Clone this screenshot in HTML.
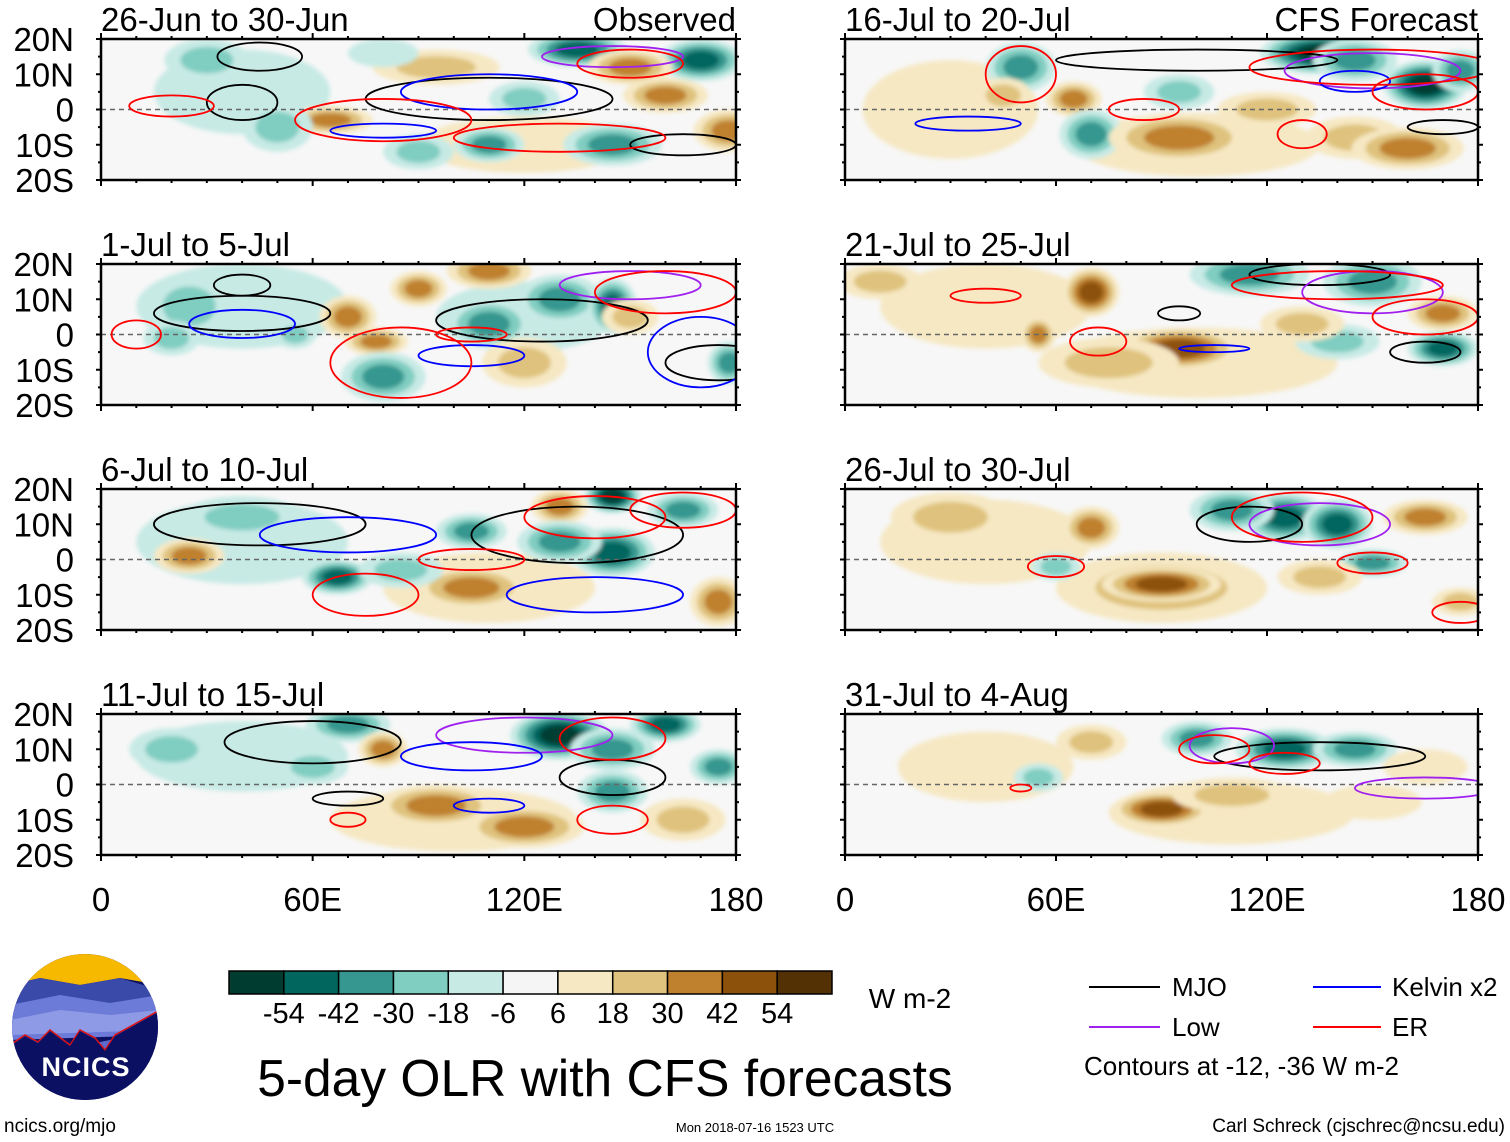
<!DOCTYPE html>
<html><head><meta charset="utf-8">
<style>
body{margin:0;background:#fff;}
svg{display:block;font-family:"Liberation Sans",sans-serif;}
</style></head>
<body>
<svg id="fig" width="1510" height="1142" viewBox="0 0 1510 1142">
<defs><filter id="bl" x="-20%" y="-20%" width="140%" height="140%"><feGaussianBlur stdDeviation="2"/></filter>
<clipPath id="c0"><rect x="101" y="39" width="635" height="141"/></clipPath>
<clipPath id="c1"><rect x="845" y="39" width="633" height="141"/></clipPath>
<clipPath id="c2"><rect x="101" y="264" width="635" height="141"/></clipPath>
<clipPath id="c3"><rect x="845" y="264" width="633" height="141"/></clipPath>
<clipPath id="c4"><rect x="101" y="489" width="635" height="141"/></clipPath>
<clipPath id="c5"><rect x="845" y="489" width="633" height="141"/></clipPath>
<clipPath id="c6"><rect x="101" y="714" width="635" height="141"/></clipPath>
<clipPath id="c7"><rect x="845" y="714" width="633" height="141"/></clipPath>
</defs>
<g id="panels"></g>
<g id="colorbar"></g>
<text x="910" y="1008" font-size="28" text-anchor="middle">W m-2</text>
<text x="605" y="1096" font-size="51.5" text-anchor="middle">5-day OLR with CFS forecasts</text>
<g font-size="26">
<line x1="1089" y1="987" x2="1160" y2="987" stroke="#000" stroke-width="2"/><text x="1172" y="996">MJO</text>
<line x1="1089" y1="1027" x2="1160" y2="1027" stroke="#a020f0" stroke-width="2"/><text x="1172" y="1036">Low</text>
<line x1="1313" y1="987" x2="1381" y2="987" stroke="#0000ff" stroke-width="2"/><text x="1392" y="996">Kelvin x2</text>
<line x1="1313" y1="1027" x2="1381" y2="1027" stroke="#ff0000" stroke-width="2"/><text x="1392" y="1036">ER</text>
<text x="1084" y="1075" font-size="26">Contours at -12, -36 W m-2</text>
</g>
<g>
<clipPath id="lc"><circle cx="85" cy="1027" r="73"/></clipPath>
<g clip-path="url(#lc)">
<rect x="10" y="950" width="150" height="160" fill="#0b1063"/>
<path d="M10 950 L160 950 L160 985 L120 978 L80 985 L40 978 L10 985Z" fill="#f7b800"/>
<path d="M10 985 L40 978 L80 985 L120 978 L160 990 L160 1030 L10 1030Z" fill="#3a4aa8"/>
<path d="M10 1005 L60 995 L110 1003 L160 995 L160 1035 L10 1040Z" fill="#6c7bd8"/>
<path d="M10 1020 L60 1010 L110 1015 L160 1010 L160 1030 L10 1035Z" fill="#8f9ae6"/>
<path d="M10 1045 L25 1035 L38 1042 L50 1030 L70 1045 L80 1030 L95 1038 L105 1050 L115 1035 L160 1010 L160 1030 L10 1060Z" fill="#5a6ad0"/>
<path d="M10 1045 L25 1035 L38 1042 L50 1030 L70 1045 L80 1030 L95 1038 L105 1050 L115 1035 L160 1010" fill="none" stroke="#e01010" stroke-width="1.5"/>
<path d="M10 1046 L25 1036 L38 1043 L50 1031 L70 1046 L80 1031 L95 1039 L105 1051 L115 1036 L160 1011 L160 1110 L10 1110Z" fill="#0b1063"/>
</g>
<text x="86" y="1076" font-size="27" font-weight="bold" fill="#fff" text-anchor="middle" letter-spacing="1">NCICS</text>
</g>
<text x="4" y="1132" font-size="19">ncics.org/mjo</text>
<text x="755" y="1132" font-size="13" text-anchor="middle">Mon 2018-07-16 1523 UTC</text>
<text x="1505" y="1132" font-size="19" text-anchor="end">Carl Schreck (cjschrec@ncsu.edu)</text>
</svg>
<script>
const titles=["26-Jun to 30-Jun","16-Jul to 20-Jul","1-Jul to 5-Jul","21-Jul to 25-Jul","6-Jul to 10-Jul","26-Jul to 30-Jul","11-Jul to 15-Jul","31-Jul to 4-Aug"];
const levels=[-54,-42,-30,-18,-6,6,18,30,42,54];
const colors=["#003c30","#01665e","#35978f","#80cdc1","#c7eae5","#f5f5f5","#f6e8c3","#dfc27d","#bf812d","#8c510a","#543005"];
const yTicks=["20N","10N","0","10S","20S"];
const xTicks=["0","60E","120E","180"];
// blobs: [lon, lat, anomaly, halfWidthDeg, halfHeightDeg]
const blobs0=[[40,5,-10,25,12],[120,-10,10,30,8],[135,17,-50,14,5],[170,14,-45,12,6],[150,12,40,12,5],[160,4,30,12,5],[95,12,25,18,5],[65,-3,30,12,4],[178,-6,30,10,6],[110,-10,-30,10,5],[145,-10,-35,14,6],[90,-12,-20,10,5],[30,14,-20,12,6],[50,-5,-18,10,7],[120,3,-20,10,5],[80,16,-15,10,4]];
const blobs1=[[30,0,8,25,14],[100,-10,15,35,9],[50,12,-35,10,7],[65,3,30,8,5],[45,4,20,8,5],[70,-7,-30,9,7],[95,5,-25,10,5],[135,16,-55,17,6],[165,7,-55,12,7],[145,14,-40,12,6],[95,-8,35,20,7],[145,-8,25,14,6],[160,-11,40,16,6],[120,0,20,14,5],[175,11,-30,8,6]];
const blobs2=[[40,8,-12,30,12],[120,5,-10,25,10],[70,5,40,8,6],[78,-2,30,9,4],[90,13,35,8,5],[110,18,40,12,5],[130,10,-30,12,7],[110,3,-35,12,7],[145,8,-45,7,8],[80,-12,-35,12,7],[150,5,25,8,5],[25,8,-25,12,9],[20,-1,-25,8,5],[120,-8,20,12,7],[178,-8,-40,6,6],[55,0,-20,6,4]];
const blobs3=[[40,8,10,30,12],[100,-8,15,40,10],[70,12,50,8,7],[55,0,40,5,5],[95,-4,45,17,6],[75,-8,20,20,7],[115,17,-40,17,6],[150,15,-35,14,7],[170,6,40,10,5],[170,-4,-50,10,5],[10,15,20,12,5],[140,-2,-25,12,5],[130,3,20,12,5]];
const blobs4=[[40,5,-8,30,12],[110,-8,12,30,10],[145,18,-55,8,5],[130,15,30,8,5],[165,14,-35,10,5],[145,2,-50,12,7],[105,8,-35,10,5],[130,5,-35,12,6],[67,-5,-45,10,5],[25,1,35,10,5],[105,-8,30,16,6],[175,-12,40,8,7],[85,-3,-20,12,5],[40,12,-18,17,6]];
const blobs5=[[40,5,10,30,12],[90,-8,18,30,10],[70,9,40,8,6],[90,-7,50,17,5],[125,12,-45,12,7],[140,10,-50,10,7],[110,14,-35,12,6],[165,12,30,12,5],[150,-1,-30,10,4],[135,-5,25,12,5],[60,-2,-20,7,4],[30,12,18,17,7],[175,-12,25,8,4]];
const blobs6=[[40,8,-10,30,10],[100,-10,12,35,9],[70,17,-40,12,5],[130,14,-55,14,7],[160,17,-50,10,5],[145,10,-35,12,6],[175,5,-40,8,5],[145,-2,-40,10,6],[95,-6,35,17,6],[120,-12,30,17,6],[80,10,30,7,5],[60,5,-20,10,5],[20,10,-20,12,6],[165,-10,20,12,6]];
const blobs7=[[40,5,8,25,10],[110,-8,12,35,9],[100,13,-40,10,5],[125,10,-50,14,6],[145,10,-30,12,5],[90,-7,45,14,5],[70,12,25,10,5],[110,-3,20,17,5],[165,5,15,12,5],[55,2,-20,7,4],[150,-5,15,14,5]];
const blobsAll=[blobs0,blobs1,blobs2,blobs3,blobs4,blobs5,blobs6,blobs7];
// contours: [lon, lat, halfWidthDeg, halfHeightDeg, type]
const cont0=[[45,15,12,4,"MJO"],[40,2,10,5,"MJO"],[110,3,35,6,"MJO"],[165,-10,15,3,"MJO"],[145,15,20,3,"Low"],[110,5,25,5,"Kelvin"],[80,-6,15,2,"Kelvin"],[20,1,12,3,"ER"],[80,-3,25,6,"ER"],[150,13,15,4,"ER"],[130,-8,30,4,"ER"]];
const cont1=[[100,14,40,3,"MJO"],[170,-5,10,2,"MJO"],[150,11,25,5,"Low"],[35,-4,15,2,"Kelvin"],[145,8,10,3,"Kelvin"],[50,10,10,8,"ER"],[150,12,35,5,"ER"],[85,0,10,3,"ER"],[130,-7,7,4,"ER"],[165,5,15,5,"ER"]];
const cont2=[[40,14,8,3,"MJO"],[40,6,25,5,"MJO"],[125,4,30,6,"MJO"],[175,-8,15,5,"MJO"],[150,14,20,4,"Low"],[40,3,15,4,"Kelvin"],[105,-6,15,3,"Kelvin"],[170,-5,15,10,"Kelvin"],[10,0,7,4,"ER"],[85,-8,20,10,"ER"],[160,12,20,6,"ER"],[105,0,10,2,"ER"]];
const cont3=[[135,17,20,3,"MJO"],[95,6,6,2,"MJO"],[165,-5,10,3,"MJO"],[150,12,20,6,"Low"],[105,-4,10,1,"Kelvin"],[40,11,10,2,"ER"],[140,14,30,4,"ER"],[72,-2,8,4,"ER"],[165,5,15,5,"ER"]];
const cont4=[[45,10,30,6,"MJO"],[135,7,30,8,"MJO"],[70,7,25,5,"Kelvin"],[140,-10,25,5,"Kelvin"],[105,0,15,3,"ER"],[75,-10,15,6,"ER"],[140,12,20,6,"ER"],[165,14,15,5,"ER"]];
const cont5=[[115,10,15,5,"MJO"],[135,10,20,6,"Low"],[60,-2,8,3,"ER"],[130,12,20,7,"ER"],[150,-1,10,3,"ER"],[175,-15,8,3,"ER"]];
const cont6=[[60,12,25,6,"MJO"],[70,-4,10,2,"MJO"],[145,2,15,5,"MJO"],[120,14,25,5,"Low"],[105,8,20,4,"Kelvin"],[110,-6,10,2,"Kelvin"],[70,-10,5,2,"ER"],[145,-10,10,4,"ER"],[145,13,15,6,"ER"]];
const cont7=[[135,8,30,4,"MJO"],[110,11,12,5,"Low"],[165,-1,20,3,"Low"],[105,10,10,4,"ER"],[125,6,10,3,"ER"],[50,-1,3,1,"ER"]];
const contAll=[cont0,cont1,cont2,cont3,cont4,cont5,cont6,cont7];
const ctype={MJO:"#000",Low:"#a020f0",Kelvin:"#0000ff",ER:"#ff0000"};

const NS="http://www.w3.org/2000/svg";
function mk(tag,attrs,parent){const e=document.createElementNS(NS,tag);for(const k in attrs)e.setAttribute(k,attrs[k]);parent.appendChild(e);return e;}
function colorFor(v){let i=0;while(i<levels.length&&v>levels[i])i++;return colors[i];}
const root=document.getElementById('panels');
for(let p=0;p<8;p++){
  const col=p%2,row=Math.floor(p/2);
  const x0=col?845:101,w=col?633:635,y0=39+row*225,h=141;
  const xs=lon=>x0+lon/180*w, ys=lat=>y0+(20-lat)/40*h;
  const g=mk('g',{},root);
  
  
  mk('rect',{x:x0,y:y0,width:w,height:h,fill:'#f7f7f7'},g);
  const field=mk('g',{'clip-path':`url(#c${p})`,filter:'url(#bl)'},g);
  blobsAll[p].forEach(b=>{
    const [lon,lat,v,rx,ry]=b;
    const n=Math.max(1,Math.floor((Math.abs(v)-6)/12)+1);
    for(let k=0;k<n;k++){
      const f=1-0.75*k/n;
      const val=Math.sign(v)*(6+1+k*12);
      const e=mk('ellipse',{cx:xs(lon),cy:ys(lat),rx:rx*f*w/180,ry:ry*f*h/40,fill:colorFor(val)},field);
      
      
    }
  });
  const cg=mk('g',{'clip-path':`url(#c${p})`},g);
  mk('line',{x1:x0,x2:x0+w,y1:ys(0),y2:ys(0),stroke:'#666','stroke-dasharray':'5,4','stroke-width':1.5},cg);
  contAll[p].forEach(c=>{
    const e=mk('ellipse',{cx:xs(c[0]),cy:ys(c[1]),rx:c[2]*w/180,ry:c[3]*h/40,fill:'none',stroke:ctype[c[4]],'stroke-width':1.8},cg);
    
    
  });
  mk('rect',{x:x0,y:y0,width:w,height:h,fill:'none',stroke:'#000','stroke-width':2.5},g);
  for(let lon=0;lon<=180;lon+=10){
    const L=lon%60===0?6:3;
    mk('line',{x1:xs(lon),x2:xs(lon),y1:y0,y2:y0-L,stroke:'#000','stroke-width':2},g);
    mk('line',{x1:xs(lon),x2:xs(lon),y1:y0+h,y2:y0+h+L,stroke:'#000','stroke-width':2},g);
  }
  for(let lat=-20;lat<=20;lat+=5){
    const L=lat%10===0?5:3;
    mk('line',{x1:x0,x2:x0-L,y1:ys(lat),y2:ys(lat),stroke:'#000','stroke-width':2},g);
    mk('line',{x1:x0+w,x2:x0+w+L,y1:ys(lat),y2:ys(lat),stroke:'#000','stroke-width':2},g);
  }
  const t=mk('text',{x:x0,y:y0-8,'font-size':33},g);t.textContent=titles[p];
  
  
  if(row===0){const r=mk('text',{x:x0+w,y:y0-8,'font-size':33,'text-anchor':'end'},g);r.textContent=col?'CFS Forecast':'Observed';
    
    }
  if(col===0){yTicks.forEach((lab,i)=>{const tt=mk('text',{x:74,y:y0+i*h/4+12,'font-size':33,'text-anchor':'end'},g);tt.textContent=lab;
    
    });}
  if(row===3){xTicks.forEach((lab,i)=>{const tt=mk('text',{x:xs(i*60),y:911,'font-size':33,'text-anchor':'middle'},g);tt.textContent=lab;
    
    });}
}
const cb=document.getElementById('colorbar');
const cbx=229,cbw=603/11;
colors.forEach((c,i)=>{const r=mk('rect',{x:cbx+i*cbw,y:971,width:cbw,height:23,fill:c,stroke:'#000','stroke-width':1.5},cb);
  
  });
levels.forEach((l,i)=>{const t=mk('text',{x:cbx+(i+1)*cbw,y:1023,'font-size':29,'text-anchor':'middle'},cb);t.textContent=l;
  
  });
</script>
</body></html>
